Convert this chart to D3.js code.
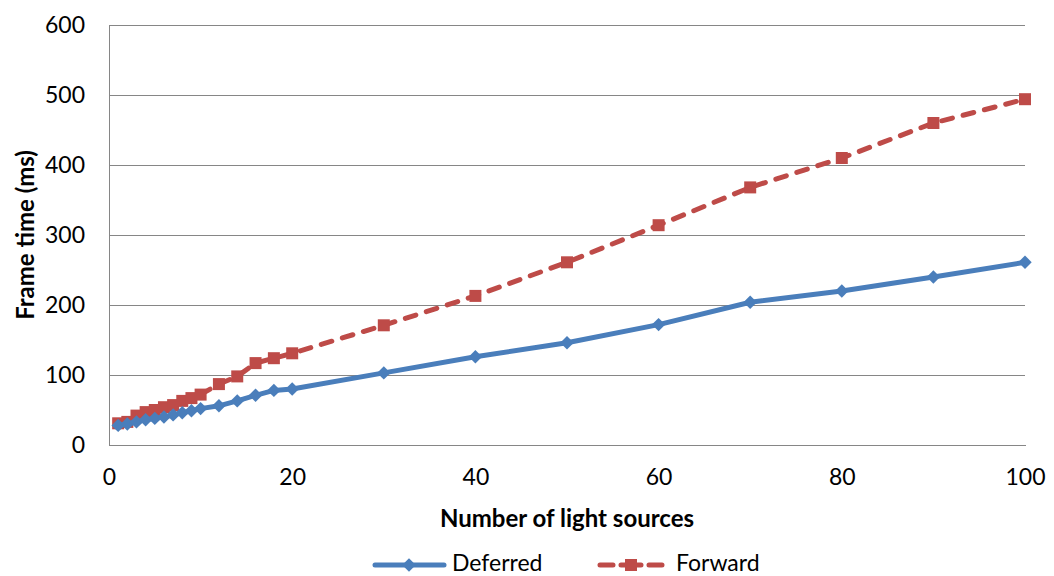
<html>
<head>
	<meta charset="utf-8">
	<title>frame time</title>
	<script src="https://d3js.org/d3.v7.min.js"></script>
	<style type="text/css">
		body{ margin:0; background:white; }
		text{ font-family: Lato, "Open Sans", sans-serif; fill:#000; }
		.axis path, .axis line{ fill:none; stroke:#868686; shape-rendering:crispEdges; }
		.axis text{ font-size:23px; font-family: Lato, "Open Sans", sans-serif; }
		.grid line{ stroke:#868686; stroke-width:1.5; shape-rendering:crispEdges; }
		.grid path{ display:none; }
	</style>
</head>
<body>
	<script type="text/javascript">
		// data
		var lights   = [1,2,3,4,5,6,7,8,9,10,12,14,16,18,20,30,40,50,60,70,80,90,100];
		var deferred = [28,30,33,36,38,40,43,46,49,52,56,63,71,78,80,103,126,146,172,204,220,240,261];
		var forward  = [31,33,42,47,50,54,57,63,67,72,87,98,117,124,131,171,213,261,314,368,410,460,494];
		var xTicks = [0,20,40,60,80,100];
		var yTicks = [0,100,200,300,400,500,600];

		(function(){
		var w = 1054, h = 576;
		var padL = 109, padR = 1025, padT = 25, padB = 445;   // plot area edges

		var svg = d3.select("body").append("svg")
			.attr("width", w)
			.attr("height", h);

		var xScale = d3.scaleLinear().domain([0,100]).range([padL,padR]);
		var yScale = d3.scaleLinear().domain([0,600]).range([padB,padT]);

		// horizontal gridlines
		svg.append("g")
			.attr("class","grid")
			.attr("transform","translate(" + padL + ",0)")
			.call(d3.axisLeft(yScale).tickValues(yTicks.slice(1)).tickSize(-(padR-padL)).tickFormat(""));

		// y axis
		var yAxis = svg.append("g")
			.attr("class","axis")
			.attr("transform","translate(" + padL + ",0)")
			.call(d3.axisLeft(yScale).tickValues(yTicks).tickSize(0).tickPadding(24));
		yAxis.select("path").attr("stroke-width",1.5);

		// x axis
		var xAxis = svg.append("g")
			.attr("class","axis")
			.attr("transform","translate(0," + padB + ")")
			.call(d3.axisBottom(xScale).tickValues(xTicks).tickSize(0).tickPadding(24));
		xAxis.select("path").attr("stroke-width",1.5);

		// axis titles
		svg.append("text")
			.text("Frame time (ms)")
			.attr("transform","translate(28,235) rotate(-90)")
			.attr("text-anchor","middle")
			.attr("dominant-baseline","middle")
			.attr("font-weight","bold")
			.attr("font-size","24px");

		svg.append("text")
			.text("Number of light sources")
			.attr("x",567)
			.attr("y",521)
			.attr("text-anchor","middle")
			.attr("dominant-baseline","middle")
			.attr("font-weight","bold")
			.attr("font-size","24px");

		var blue = "#4a7ebb", red = "#be4b48";

		var line = d3.line()
			.x(function(d){ return xScale(d[0]); })
			.y(function(d){ return yScale(d[1]); });

		var fwdData = lights.map(function(x,i){ return [x, forward[i]]; });
		var defData = lights.map(function(x,i){ return [x, deferred[i]]; });

		// forward series
		svg.append("path")
			.datum(fwdData)
			.attr("d", line)
			.attr("fill","none")
			.attr("stroke",red)
			.attr("stroke-width",5)
			.attr("stroke-linecap","round")
			.attr("stroke-dasharray","11,11");

		var sq = 12;
		svg.selectAll("rect.fwd")
			.data(fwdData)
			.enter()
			.append("rect")
			.attr("class","fwd")
			.attr("x",function(d){ return xScale(d[0]) - sq/2; })
			.attr("y",function(d){ return yScale(d[1]) - sq/2; })
			.attr("width",sq)
			.attr("height",sq)
			.attr("fill",red);

		// deferred series
		svg.append("path")
			.datum(defData)
			.attr("d", line)
			.attr("fill","none")
			.attr("stroke",blue)
			.attr("stroke-width",5)
			.attr("stroke-linejoin","round");

		// square rotated 45deg, like the excel diamond marker
		var diamond = d3.symbol().type(d3.symbolDiamond2 || d3.symbolDiamond).size(115);
		svg.selectAll("path.def")
			.data(defData)
			.enter()
			.append("path")
			.attr("class","def")
			.attr("d",diamond)
			.attr("transform",function(d){ return "translate(" + xScale(d[0]) + "," + yScale(d[1]) + ")"; })
			.attr("fill",blue);

		// legend
		var ly = 565;
		svg.append("line")
			.attr("x1",375).attr("x2",444).attr("y1",ly).attr("y2",ly)
			.attr("stroke",blue).attr("stroke-width",5).attr("stroke-linecap","round");
		svg.append("path")
			.attr("d",diamond)
			.attr("transform","translate(409," + ly + ")")
			.attr("fill",blue);
		svg.append("text")
			.text("Deferred")
			.attr("x",452).attr("y",ly)
			.attr("dominant-baseline","middle")
			.attr("font-size","23px");

		svg.append("line")
			.attr("x1",600).attr("x2",662).attr("y1",ly).attr("y2",ly)
			.attr("stroke",red).attr("stroke-width",5).attr("stroke-linecap","round")
			.attr("stroke-dasharray","13,8,20,8,13");
		svg.append("rect")
			.attr("x",631-sq/2).attr("y",ly-sq/2)
			.attr("width",sq).attr("height",sq)
			.attr("fill",red);
		svg.append("text")
			.text("Forward")
			.attr("x",676).attr("y",ly)
			.attr("dominant-baseline","middle")
			.attr("font-size","23px");
		})();
	</script>
</body>
</html>
